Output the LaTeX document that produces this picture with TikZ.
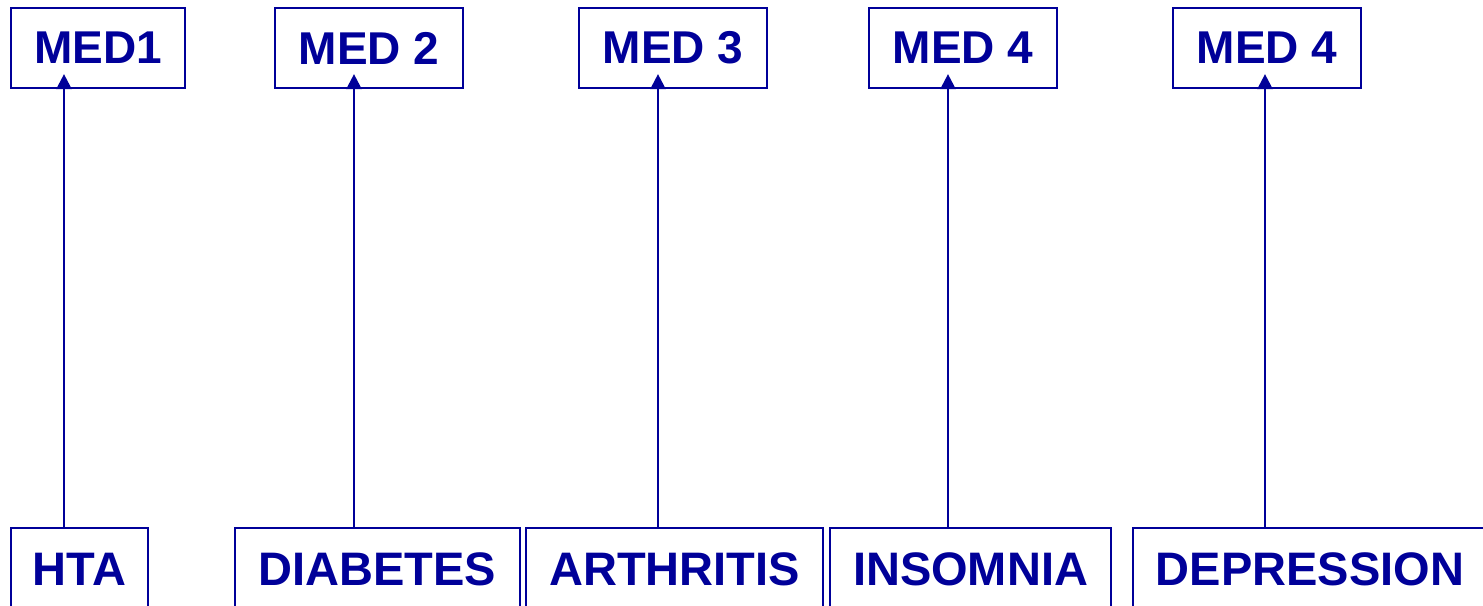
\documentclass[tikz,border=0pt]{standalone}
\usepackage{fontspec}
\setmainfont{Liberation Sans}
\usetikzlibrary{arrows.meta}
\definecolor{navy}{RGB}{0,0,153}
\begin{document}
\begin{tikzpicture}[x=1pt,y=-1pt,
  medbox/.style={draw=navy, line width=2.2pt, text=navy, font=\fontsize{46}{50}\selectfont\bfseries, minimum height=80pt, inner sep=0pt},
  disbox/.style={draw=navy, line width=2.2pt, text=navy, font=\fontsize{47}{52}\selectfont\bfseries, minimum height=82pt, inner sep=0pt},
  arr/.style={draw=navy, line width=2.4pt, -{Triangle[length=15pt,width=15pt]}, shorten >=-15pt}]
\useasboundingbox (0,0) rectangle (1483,605);
% top medication boxes
\node[medbox, minimum width=174pt] (m1) at (98,48) {MED1};
\node[medbox, minimum width=188pt] (m2) at (369,48) {MED 2};
\node[medbox, minimum width=188pt] (m3) at (673,48) {MED 3};
\node[medbox, minimum width=188pt] (m4) at (963,48) {MED 4};
\node[medbox, minimum width=188pt] (m5) at (1267,48) {MED 4};
% bottom disease boxes
\node[disbox, minimum width=137pt] (d1) at (79.5,569) {HTA};
\node[disbox, minimum width=285pt] (d2) at (377.5,569) {DIABETES};
\node[disbox, minimum width=297pt] (d3) at (674.5,569) {ARTHRITIS};
\node[disbox, minimum width=281pt] (d4) at (970.5,569) {INSOMNIA};
\node[disbox, minimum width=354pt] (d5) at (1310,569) {DEPRESSION};
% connectors
\draw[arr] (d1.north -| 64,0) -- (m1.south -| 64,0);
\draw[arr] (d2.north -| 354,0) -- (m2.south -| 354,0);
\draw[arr] (d3.north -| 658,0) -- (m3.south -| 658,0);
\draw[arr] (d4.north -| 948,0) -- (m4.south -| 948,0);
\draw[arr] (d5.north -| 1265,0) -- (m5.south -| 1265,0);
\end{tikzpicture}
\end{document}
